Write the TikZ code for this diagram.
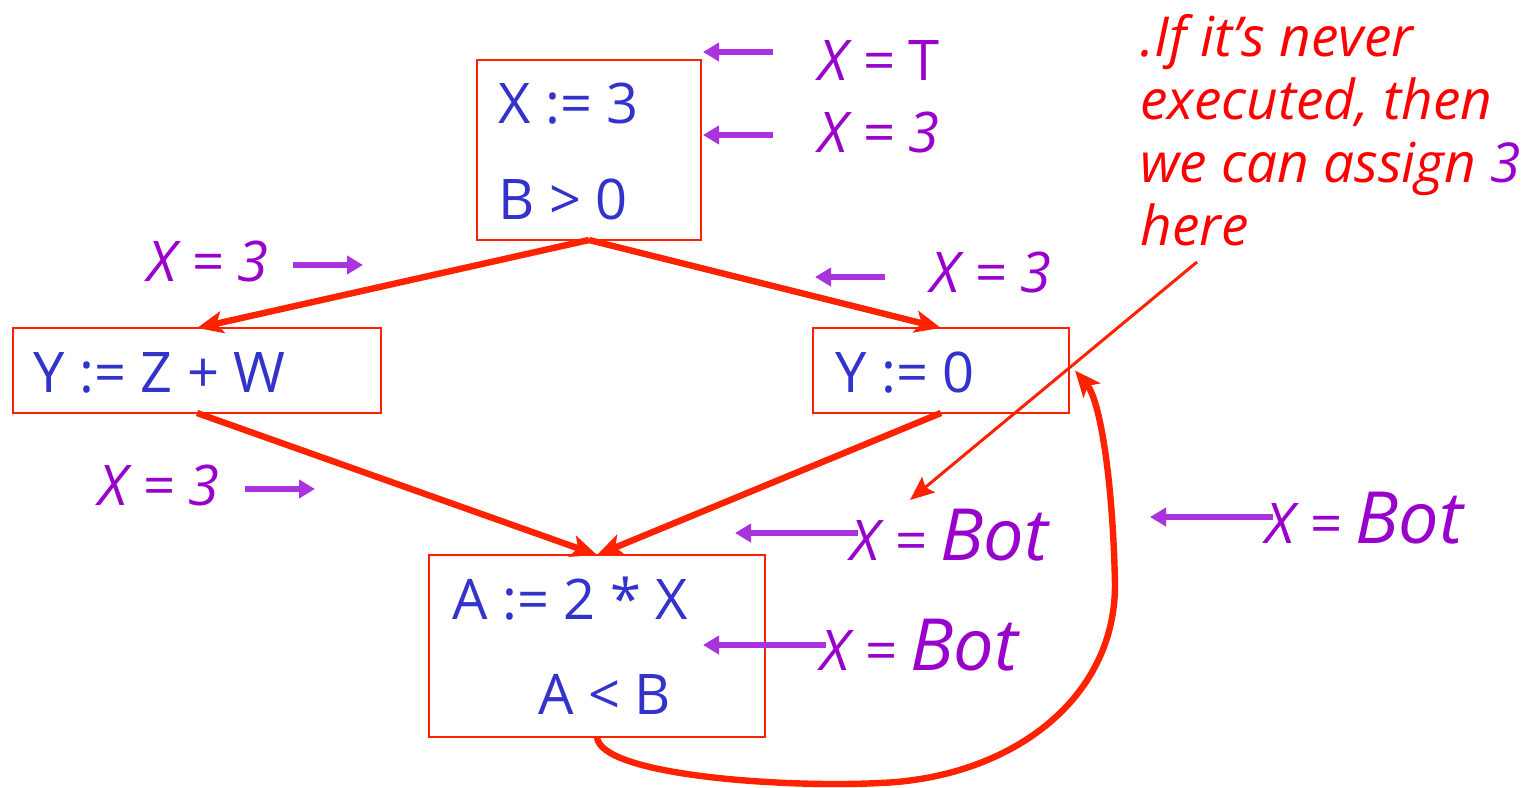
\documentclass[tikz,border=0pt]{standalone}
\usepackage{fontspec}
\setmainfont{Open Sans}
\usetikzlibrary{arrows.meta}
\definecolor{boxred}{HTML}{FF2200}
\definecolor{codeblue}{HTML}{3333CC}
\definecolor{factpurple}{HTML}{9900CC}
\definecolor{arrpurple}{HTML}{AA33DD}
\definecolor{notered}{HTML}{FF0000}
\newcommand{\bigbot}{\fontsize{36}{40}\selectfont}

\begin{document}
\begin{tikzpicture}[x=0.5pt, y=-0.5pt,
    block/.style={draw=boxred, line width=1pt, inner sep=0pt, outer sep=0pt},
    code/.style={text=codeblue, font=\fontsize{28}{34}\selectfont, inner sep=0pt, anchor=base west},
    fact/.style={text=factpurple, font=\fontsize{28}{34}\selectfont\itshape, inner sep=0pt, anchor=base west},
    flow/.style={draw=boxred, line width=3.2pt, -{Stealth[length=13pt,width=11pt,inset=3pt]}},
    hint/.style={draw=arrpurple, line width=3.2pt, -{Triangle[length=8pt,width=9pt]}}]
  \useasboundingbox (0,0) rectangle (1528,788);
  % basic blocks
  \node[block, minimum width=112pt, minimum height=90pt] (b1) at (589,150) {};
  \node[block, minimum width=184pt, minimum height=42.5pt] (b2) at (197,370.5) {};
  \node[block, minimum width=128pt, minimum height=42.5pt] (b3) at (941,370.5) {};
  \node[block, minimum width=168pt, minimum height=91pt] (b4) at (597,646) {};
  \node[code] (c1) at (498,123) {X := 3};
  \node[code] (c2) at (498,219) {B > 0};
  \node[code] (c3) at (33,392) {Y := Z + W};
  \node[code] (c4) at (835,392) {Y := 0};
  \node[code] (c5) at (452,619) {A := 2 * X};
  \node[code] (c6) at (538,714) {A < B};
  % control flow
  \draw[flow] (b1.south) -- (b2.north);
  \draw[flow] (b1.south) -- (b3.north);
  \draw[flow] (b2.south) -- (b4.north);
  \draw[flow] (b3.south) -- (b4.north);
  \draw[flow] (b4.south) .. controls (600,775) and (780,788) .. (880,783)
    .. controls (1010,778) and (1115,700) .. (1115,585)
    .. controls (1113,480) and (1100,400) .. ([xshift=3pt]b3.east);
  % facts about X
  \node[fact] (f1) at (818,80) {X = {\upshape T}};
  \node[fact] (f2) at (818,152) {X = 3};
  \node[fact] (f3) at (147,281) {X = 3};
  \node[fact] (f4) at (930,292) {X = 3};
  \node[fact] (f5) at (98,505) {X = 3};
  \node[fact] (f6) at (850,560) {X = {\bigbot Bot}};
  \node[fact] (f7) at (1265,543) {X = {\bigbot Bot}};
  \node[fact] (f8) at (820,670) {X = {\bigbot Bot}};
  \foreach \n/\xa/\xb/\y in {1/773/703/52, 2/773/703/135, 3/293/363/265,
      4/885/815/277, 5/245/315/489, 6/858/735/533, 7/1273/1150/517,
      8/826/703/645} {
    \coordinate (h\n s) at (\xa,\y);
    \coordinate (h\n e) at (\xb,\y);
    \draw[hint] (h\n s) -- (h\n e);
  }
  % remark
  \node[text=notered, font=\fontsize{27.5}{31.5}\selectfont\itshape, align=left,
    anchor=north west, inner sep=0pt] (note) at (1140,14)
    {.If it’s never\\executed, then\\we can assign {\color{factpurple}3}\\here};
  \coordinate (tail) at (1197,262);
  \coordinate (tip) at (910,500);
  \draw[draw=boxred, line width=1.5pt, -{Stealth[length=12pt,width=10pt,inset=2pt]}] (tail) -- (tip);
\end{tikzpicture}
\end{document}
